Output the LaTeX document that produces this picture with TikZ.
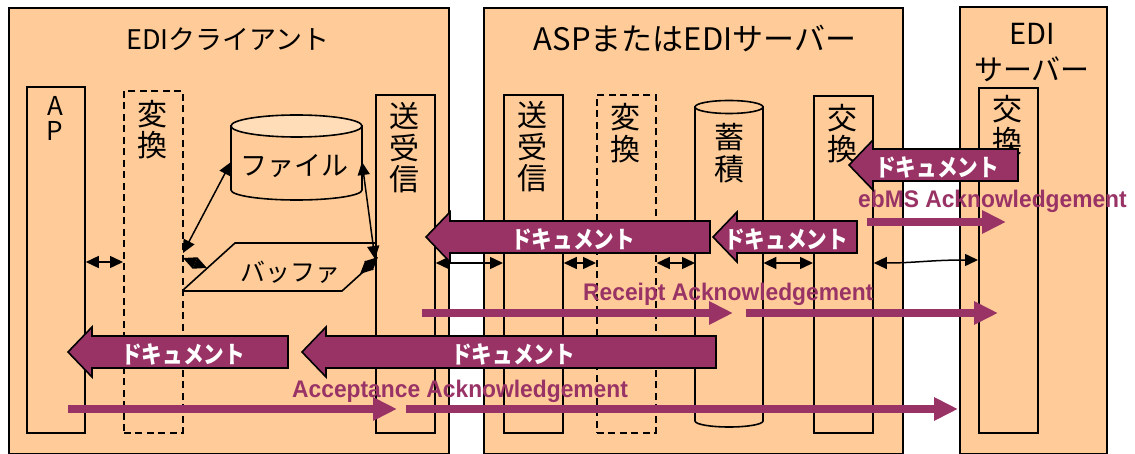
\documentclass[tikz,border=0pt]{standalone}
\usepackage{fontspec}
\newfontfamily\jp{Noto Sans CJK JP}
\newfontfamily\jpb[FakeStretch=0.86]{Noto Sans CJK JP}
\newfontfamily\ackf[FakeStretch=0.95]{Liberation Sans}
\usetikzlibrary{arrows.meta,calc}
\definecolor{peach}{HTML}{FFCC99}
\definecolor{peachlt}{HTML}{FFDDB8}
\definecolor{plum}{HTML}{993366}
\newcommand\blkarrow[3]{%
  \path[blk] (#1,#2) -- ({#1+24},{#2-25}) -- ({#1+24},{#2-16}) -- (#3,{#2-16})
    -- (#3,{#2+16}) -- ({#1+24},{#2+16}) -- ({#1+24},{#2+25}) -- cycle;}
\begin{document}
\begin{tikzpicture}[x=1pt,y=-1pt,
  outer/.style={draw, fill=peach, line width=2pt, rectangle, anchor=north west, inner sep=0pt},
  inbox/.style={draw, fill=peach, line width=1.8pt, rectangle, anchor=north west, inner sep=0pt},
  dbox/.style={inbox, dash pattern=on 7pt off 4.5pt},
  ghost/.style={rectangle, anchor=north west, inner sep=0pt},
  lbl/.style={font=\jp\fontsize{30}{31.5}\selectfont, align=center, inner sep=0pt},
  ttl/.style={inner sep=0pt},
  dbl/.style={line width=1.5pt, {Triangle[length=13pt,width=12pt]}-{Triangle[length=13pt,width=12pt]}},
  blk/.style={draw=black, fill=plum, line width=1.6pt},
  blktext/.style={text=white, font=\jpb\bfseries\fontsize{24}{26}\selectfont, inner sep=0pt},
  ack/.style={draw=plum, line width=7.5pt, -{Triangle[length=24pt,width=22pt]}},
  acktext/.style={text=plum, font=\ackf\bfseries\fontsize{24}{28}\selectfont, inner sep=0pt, anchor=base west},
]
\useasboundingbox[fill=white] (0,0) rectangle (1135,454);

% outer boxes
\node[outer, minimum width=440pt, minimum height=446pt] (cli) at (8,7) {};
\node[outer, minimum width=419pt, minimum height=446pt] (asp) at (483,7) {};
\node[outer, minimum width=147pt, minimum height=447pt] (edi) at (959,6) {};

% titles
\node[ttl, font=\jp\fontsize{27}{30}\selectfont] (tcli) at (228,39) {EDIクライアント};
\node[ttl, font=\jp\fontsize{31}{34}\selectfont] (tasp) at (695,39) {ASPまたはEDIサーバー};
\node[ttl, font=\jp\fontsize{29}{36}\selectfont, align=center] (tedi) at (1032,53) {EDI\\サーバー};

% buffer (partly hidden behind the client transceiver box)
\path[draw, fill=peach, line width=1.6pt] (182,291) -- (235,243) -- (395,243) -- (342,291) -- cycle;
\node[ghost, anchor=center, font=\jp\fontsize{25}{26}\selectfont] (buf) at (290,272) {バッファ};

% inner boxes
\node[inbox, minimum width=58pt, minimum height=346pt] (ap) at (26,86) {};
\node[dbox, minimum width=59pt, minimum height=342pt] (cv) at (123,90) {};
\node[inbox, minimum width=59pt, minimum height=338pt] (csr) at (375,94) {};
\node[inbox, minimum width=59pt, minimum height=338pt] (asr) at (503,94) {};
\node[dbox, minimum width=59pt, minimum height=338pt] (acv) at (596,94) {};
\node[inbox, minimum width=59pt, minimum height=337pt] (ax) at (813,95) {};
\node[inbox, minimum width=59pt, minimum height=345pt] (ex) at (978,87) {};

% file cylinder
\path[draw, fill=peach, line width=1.6pt] (231,126) -- (231,190) arc[start angle=180, end angle=0, x radius=65.5, y radius=10] -- (362,126) -- cycle;
\path[draw, fill=peachlt, line width=1.6pt] (296.5,126) ellipse[x radius=65.5, y radius=11];
\node[ghost, minimum width=131pt, minimum height=75pt] (file) at (231,120) {};
\node[ghost, anchor=center, font=\jp\fontsize{27}{28}\selectfont] (filet) at (294,166) {ファイル};

% storage cylinder
\path[draw, fill=peach, line width=1.6pt] (695,107) -- (695,421) arc[start angle=180, end angle=0, x radius=34, y radius=6] -- (763,107) -- cycle;
\path[draw, fill=peach, line width=1.6pt] (729,107) ellipse[x radius=34, y radius=6.5];
\node[ghost, minimum width=68pt, minimum height=320pt] (stor) at (695,101) {};

% labels
\node[lbl, font=\jp\fontsize{26}{25}\selectfont] (apl) at (55,118) {A\\P};
\node[lbl] (cvl) at (152,129.5) {変\\換};
\node[lbl] (csrl) at (404,148) {送\\受\\信};
\node[lbl] (asrl) at (532,147) {送\\受\\信};
\node[lbl] (acvl) at (625,133) {変\\換};
\node[lbl] (storl) at (729,153) {蓄\\積};
\node[lbl] (axl) at (842,133.5) {交\\換};
\node[lbl] (exl) at (1007,125) {交\\換};

% thin double arrows
\coordinate (ra) at (0,262);
\coordinate (rb) at (0,263);
\coordinate (fL1) at (231,162);
\coordinate (fL2) at (183,253);
\coordinate (fR1) at (362,162);
\coordinate (fR2) at (375,259);
\coordinate (bL1) at (183,258);
\coordinate (bL2) at (207,268);
\coordinate (bR1) at (360,274);
\coordinate (bR2) at (378,257);
\draw[dbl] (fL1) -- (fL2);
\draw[dbl] (bL1) -- (bL2);
\draw[dbl] (fR1) -- (fR2);
\draw[dbl] (bR1) -- (bR2);
\draw[dbl] (ap.east |- ra) -- (cv.west |- ra);
\draw[dbl] (csr.east |- rb) -- (asr.west |- rb);
\draw[dbl] (asr.east |- rb) -- (acv.west |- rb);
\draw[dbl] (acv.east |- rb) -- (stor.west |- rb);
\draw[dbl] (stor.east |- rb) -- (ax.west |- rb);
\coordinate (w1) at (0,263);
\coordinate (w2) at (0,260);
\draw[dbl] (ax.east |- w1) .. controls (915,263) and (930,260) .. (ex.west |- w2);

% acknowledgement arrows
\coordinate (e1) at (867,222); \coordinate (e2) at (1006,222);
\coordinate (r1) at (422,313); \coordinate (r2) at (733,313);
\coordinate (r3) at (746,313); \coordinate (r4) at (998,313);
\coordinate (c1) at (68,409);  \coordinate (c2) at (397,409);
\coordinate (c3) at (406,409); \coordinate (c4) at (958,409);
\draw[ack] (e1) -- (e2);
\draw[ack] (r1) -- (r2);
\draw[ack] (r3) -- (r4);
\draw[ack] (c1) -- (c2);
\draw[ack] (c3) -- (c4);
\node[acktext] (et) at (858,208) {ebMS Acknowledgement};
\node[acktext] (rt) at (583,301) {Receipt Acknowledgement};
\node[acktext] (ct) at (292,397) {Acceptance Acknowledgement};

% document block arrows
\blkarrow{849}{165}{1018}
\node[blktext] (d1) at (937,167) {ドキュメント};
\blkarrow{426}{237}{710}
\node[blktext] (d2) at (573,239) {ドキュメント};
\blkarrow{713}{237}{857}
\node[blktext] (d3) at (786,239) {ドキュメント};
\blkarrow{302}{352}{716}
\node[blktext] (d4) at (513,354) {ドキュメント};
\blkarrow{68}{352}{288}
\node[blktext] (d5) at (183,354) {ドキュメント};
\end{tikzpicture}
\end{document}
